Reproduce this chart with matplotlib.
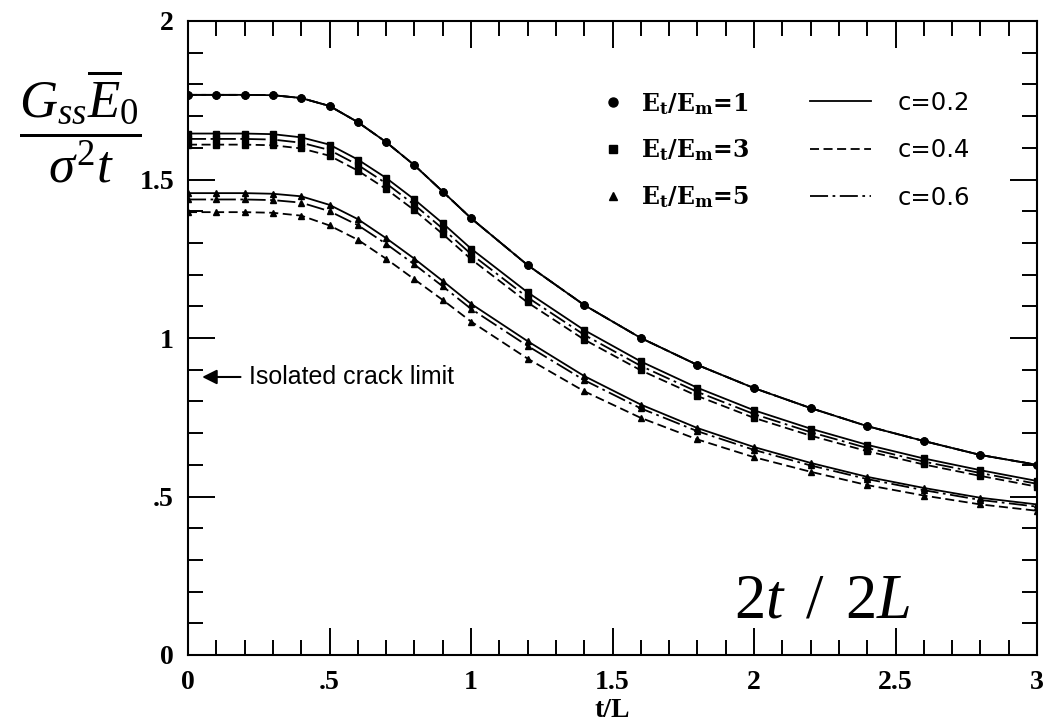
import matplotlib
matplotlib.use("agg")
import matplotlib.pyplot as plt
from matplotlib.lines import Line2D
from matplotlib.ticker import MultipleLocator

plt.rcParams["mathtext.fontset"] = "custom"
plt.rcParams["mathtext.rm"] = "Liberation Serif"
plt.rcParams["mathtext.it"] = "Liberation Serif:italic"
plt.rcParams["mathtext.bf"] = "DejaVu Serif:bold"

# t/L sample points (markers)
t_over_L = [0.0, 0.1, 0.2, 0.3, 0.4, 0.5, 0.6, 0.7, 0.8, 0.9, 1.0,
            1.2, 1.4, 1.6, 1.8, 2.0, 2.2, 2.4, 2.6, 2.8, 3.0]

# Et/Em = 1 : all c give the same curve
g_r1 = [1.767, 1.767, 1.767, 1.766, 1.757, 1.732, 1.681, 1.618, 1.545, 1.462, 1.378,
        1.230, 1.104, 1.000, 0.915, 0.842, 0.779, 0.722, 0.675, 0.631, 0.600]

# Et/Em = 3
g_r3_c02 = [1.645, 1.645, 1.645, 1.643, 1.633, 1.610, 1.563, 1.505, 1.437, 1.362, 1.282,
            1.144, 1.025, 0.926, 0.843, 0.772, 0.714, 0.663, 0.620, 0.583, 0.549]
g_r3_c04 = [1.610, 1.610, 1.610, 1.608, 1.598, 1.575, 1.528, 1.470, 1.403, 1.328, 1.249,
            1.112, 0.995, 0.898, 0.817, 0.748, 0.692, 0.643, 0.601, 0.565, 0.531]
g_r3_c06 = [1.628, 1.628, 1.628, 1.626, 1.616, 1.593, 1.546, 1.488, 1.420, 1.345, 1.265,
            1.128, 1.010, 0.912, 0.830, 0.760, 0.703, 0.653, 0.610, 0.574, 0.540]

# Et/Em = 5
g_r5_c02 = [1.457, 1.457, 1.457, 1.455, 1.447, 1.420, 1.375, 1.315, 1.250, 1.180, 1.108,
            0.990, 0.880, 0.790, 0.716, 0.656, 0.606, 0.562, 0.527, 0.496, 0.475]
g_r5_c04 = [1.397, 1.397, 1.397, 1.395, 1.386, 1.355, 1.310, 1.250, 1.185, 1.120, 1.052,
            0.935, 0.832, 0.748, 0.680, 0.624, 0.578, 0.536, 0.503, 0.475, 0.455]
g_r5_c06 = [1.437, 1.437, 1.437, 1.435, 1.427, 1.400, 1.356, 1.297, 1.232, 1.163, 1.092,
            0.975, 0.867, 0.778, 0.706, 0.647, 0.598, 0.555, 0.520, 0.489, 0.468]

ratio_labels = [r"$\mathbf{E_t/E_m}$=1", r"$\mathbf{E_t/E_m}$=3", r"$\mathbf{E_t/E_m}$=5"]
c_labels = ["c=0.2", "c=0.4", "c=0.6"]

x_ticks = [0, 0.5, 1, 1.5, 2, 2.5, 3]
x_ticklabels = ["0", ".5", "1", "1.5", "2", "2.5", "3"]
y_ticks = [0, 0.5, 1, 1.5, 2]
y_ticklabels = ["0", ".5", "1", "1.5", "2"]

markers = ["o", "s", "^"]
marker_sizes = [5.0, 4.2, 4.8]
line_styles = ["-", (0, (5, 2.5)), (0, (10, 2.5, 1.5, 2.5))]

series = [
    [g_r1, g_r1, g_r1],
    [g_r3_c02, g_r3_c04, g_r3_c06],
    [g_r5_c02, g_r5_c04, g_r5_c06],
]

fig = plt.figure(figsize=(10.57, 7.27), dpi=100)
ax = fig.add_axes([188 / 1057, 1 - 655 / 727, 849 / 1057, 634 / 727])

for curves, mk, ms in zip(series, markers, marker_sizes):
    for g, ls in zip(curves, line_styles):
        ax.plot(t_over_L, g, color="black", lw=1.3, ls=ls, marker=mk, ms=ms)

ax.set_xlim(0, 3)
ax.set_ylim(0, 2)
ax.set_xticks(x_ticks, x_ticklabels)
ax.set_yticks(y_ticks, y_ticklabels)
ax.xaxis.set_minor_locator(MultipleLocator(0.1))
ax.yaxis.set_minor_locator(MultipleLocator(0.1))
ax.tick_params(which="both", direction="in", top=True, right=True, width=1.4, color="black")
ax.tick_params(which="major", length=19.5)
ax.tick_params(which="minor", length=10.8)
ax.tick_params(axis="x", which="major", pad=11)
ax.tick_params(axis="y", which="major", pad=10)
for lab in ax.get_xticklabels() + ax.get_yticklabels():
    lab.set_fontfamily("Liberation Serif")
    lab.set_fontweight("bold")
    lab.set_fontsize(20)
for sp in ax.spines.values():
    sp.set_linewidth(1.5)

ax.set_xlabel("t/L", family="Liberation Serif", weight="bold", fontsize=20, labelpad=2)

# legends
h1 = [Line2D([], [], ls="none", marker=m, color="black", ms=s + 1.5) for m, s in zip(markers, marker_sizes)]
leg1 = ax.legend(h1, ratio_labels, loc="upper left", bbox_to_anchor=(0.489, 0.89),
                 frameon=False, handlelength=0.8, handletextpad=0.8, labelspacing=0.88,
                 borderaxespad=0, borderpad=0,
                 prop={"family": "DejaVu Serif", "weight": "bold", "size": 17})
ax.add_artist(leg1)
h2 = [Line2D([], [], color="black", lw=1.3, ls=ls) for ls in line_styles]
ax.legend(h2, c_labels, loc="upper left", bbox_to_anchor=(0.733, 0.89),
          frameon=False, handlelength=2.5, handletextpad=1.1, labelspacing=0.97,
          borderaxespad=0, borderpad=0, prop={"family": "DejaVu Sans", "size": 17.5})

ax.annotate("Isolated crack limit", xy=(0.05, 0.877), xytext=(0.215, 0.877),
            va="center", ha="left", fontsize=18, family="Liberation Sans",
            arrowprops=dict(arrowstyle="-|>", color="black", lw=1.5, shrinkA=4, shrinkB=0,
                            mutation_scale=22))

ax.text(1.93, 0.117, r"$2t\ \,/\ \,2L$", fontsize=45, va="baseline", ha="left")

fig.text(80 / 1057, 1 - 126 / 727, r"$\dfrac{G_{ss}\overline{E}_0}{\sigma^2 t}$",
         fontsize=38, ha="center", va="center")

fig.savefig("out.png", dpi=100)
